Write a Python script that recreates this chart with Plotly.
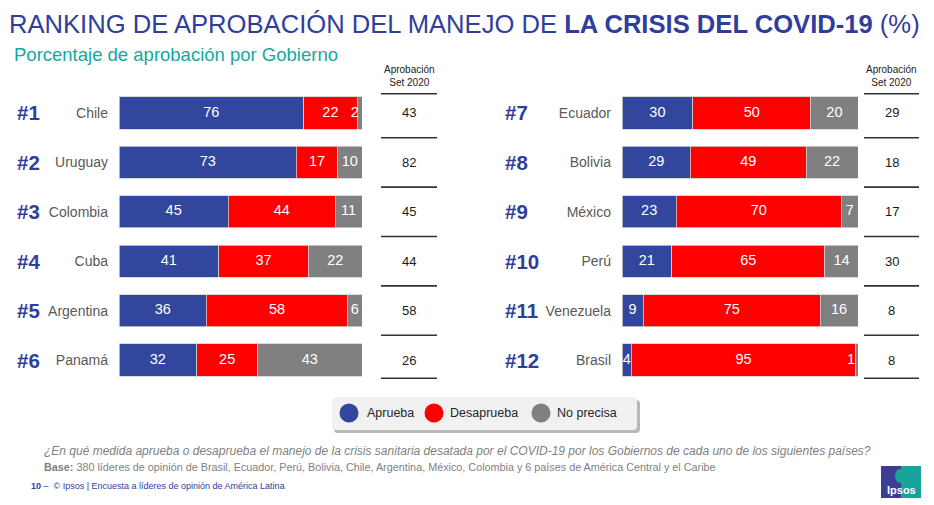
import plotly.graph_objects as go

# ---------------- data ----------------
ranks_left = ["#1", "#2", "#3", "#4", "#5", "#6"]
countries_left = ["Chile", "Uruguay", "Colombia", "Cuba", "Argentina", "Panamá"]
aprueba_left = [76, 73, 45, 41, 36, 32]
desaprueba_left = [22, 17, 44, 37, 58, 25]
noprecisa_left = [2, 10, 11, 22, 6, 43]
set2020_left = [43, 82, 45, 44, 58, 26]

ranks_right = ["#7", "#8", "#9", "#10", "#11", "#12"]
countries_right = ["Ecuador", "Bolivia", "México", "Perú", "Venezuela", "Brasil"]
aprueba_right = [30, 29, 23, 21, 9, 4]
desaprueba_right = [50, 49, 70, 65, 75, 95]
noprecisa_right = [20, 22, 7, 14, 16, 1]
set2020_right = [29, 18, 17, 30, 8, 8]

series_names = ["Aprueba", "Desaprueba", "No precisa"]
series_colors = ["#31469C", "#FF0000", "#808080"]

title_regular = "RANKING DE APROBACIÓN DEL MANEJO DE "
title_bold = "LA CRISIS DEL COVID-19"
title_tail = " (%)"
subtitle = "Porcentaje de aprobación por Gobierno"
table_header = "Aprobación<br>Set 2020"
question = ("¿En qué medida aprueba o desaprueba el manejo de la crisis sanitaria desatada por el "
            "COVID-19 por los Gobiernos de cada uno de los siguientes países?")
base_text = ("380 líderes de opinión de Brasil, Ecuador, Perú, Bolivia, Chile, Argentina, México, "
             "Colombia y 6 países de América Central y el Caribe")
footer_text = "© Ipsos | Encuesta a líderes de opinión de América Latina"

# ---------------- helpers ----------------
# the page places the figure 8px from the top-left corner (default body margin)
OFF = 8
W, H = 934 - OFF, 505 - OFF
FONT = "Arial, Liberation Sans, sans-serif"
BLUE_T = "#2F3E9B"


def px(x):
    return (x - OFF) / W


def py(y):
    return 1 - (y - OFF) / H


def rrect(x0, y0, x1, y1, r):
    X0, X1 = px(x0), px(x1)
    Y0, Y1 = py(y0), py(y1)
    rx, ry = r / W, r / H
    return (f"M {X0+rx},{Y0} L {X1-rx},{Y0} Q {X1},{Y0} {X1},{Y0-ry} "
            f"L {X1},{Y1+ry} Q {X1},{Y1} {X1-rx},{Y1} L {X0+rx},{Y1} "
            f"Q {X0},{Y1} {X0},{Y1+ry} L {X0},{Y0-ry} Q {X0},{Y0} {X0+rx},{Y0} Z")


fig = go.Figure()
shapes = []
annotations = []

panels = [
    dict(xa="x", ya="y", yname="yaxis", xname="xaxis", countries=countries_left, ranks=ranks_left,
         series=[aprueba_left, desaprueba_left, noprecisa_left], table=set2020_left,
         dom=[px(119), px(362)], rank_x=15, tab_x0=381, tab_x1=437),
    dict(xa="x2", ya="y2", yname="yaxis2", xname="xaxis2", countries=countries_right, ranks=ranks_right,
         series=[aprueba_right, desaprueba_right, noprecisa_right], table=set2020_right,
         dom=[px(622), px(858)], rank_x=503, tab_x0=864, tab_x1=919),
]

ydom = [py(384.7), py(88.3)]

for p in panels:
    # bars
    for name, color, vals in zip(series_names, series_colors, p["series"]):
        fig.add_trace(go.Bar(
            x=vals, y=p["countries"], orientation="h", name=name,
            marker=dict(color=color, line=dict(color="#cfcfcf", width=0.8)),
            width=0.65, xaxis=p["xa"], yaxis=p["ya"], showlegend=False,
            hoverinfo="skip",
        ))
    # value labels (centred in each segment, kept inside the bar)
    lx, ly, lt = [], [], []
    for i, c in enumerate(p["countries"]):
        cum = 0
        for vals in p["series"]:
            v = vals[i]
            mid = min(max(cum + v / 2, 1.6), 97)
            lx.append(mid)
            ly.append(c)
            lt.append(str(v))
            cum += v
    fig.add_trace(go.Scatter(
        x=lx, y=ly, text=lt, mode="text", textposition="middle center",
        textfont=dict(color="white", size=14.5, family=FONT),
        xaxis=p["xa"], yaxis=p["ya"], showlegend=False, hoverinfo="skip", cliponaxis=False,
    ))
    # rank labels
    for r, c in zip(p["ranks"], p["countries"]):
        annotations.append(dict(
            x=px(p["rank_x"]), xref="paper", y=c, yref=p["ya"], xanchor="left", yanchor="middle",
            text=f"<b>{r}</b>", showarrow=False,
            font=dict(size=20.5, color=BLUE_T, family=FONT),
        ))
    # table values
    tcx = (p["tab_x0"] + p["tab_x1"]) / 2
    for v, c in zip(p["table"], p["countries"]):
        annotations.append(dict(
            x=px(tcx), xref="paper", y=c, yref=p["ya"], xanchor="center", yanchor="middle",
            text=str(v), showarrow=False, font=dict(size=13, color="#1a1a1a", family=FONT),
        ))
    # table header
    annotations.append(dict(
        x=px(tcx), xref="paper", y=py(76), yref="paper", xanchor="center", yanchor="middle",
        text=table_header, showarrow=False, font=dict(size=10, color="#222222", family=FONT),
    ))
    # table lines
    n = len(p["countries"])
    bounds = [-0.39] + [i + 0.5 for i in range(n - 1)] + [n - 1 + 0.37]
    for b in bounds:
        shapes.append(dict(
            type="line", xref="paper", yref=p["ya"], x0=px(p["tab_x0"]), x1=px(p["tab_x1"]),
            y0=b, y1=b, line=dict(color="#333333", width=1.6),
        ))

layout_axes = {}
for p in panels:
    layout_axes[p["xname"]] = dict(domain=p["dom"], range=[0, 100], visible=False,
                                   anchor=p["ya"], fixedrange=True)
    layout_axes[p["yname"]] = dict(
        domain=ydom, anchor=p["xa"], type="category", categoryorder="array",
        categoryarray=p["countries"], range=[len(p["countries"]) - 0.5, -0.5],
        showgrid=False, showline=False, zeroline=False, ticks="",
        tickfont=dict(size=14, color="#595959", family=FONT), ticklabelstandoff=10,
    )

# title / subtitle
annotations.append(dict(
    x=px(7), xref="paper", y=py(24), yref="paper", xanchor="left", yanchor="middle",
    text=f"{title_regular}<b>{title_bold}</b>{title_tail}", showarrow=False,
    font=dict(size=25.6, color=BLUE_T, family=FONT),
))
annotations.append(dict(
    x=px(12), xref="paper", y=py(55), yref="paper", xanchor="left", yanchor="middle",
    text=subtitle, showarrow=False, font=dict(size=18.5, color="#14A89E", family=FONT),
))

# legend (drawn manually: rounded box with shadow, circles, labels)
shapes.append(dict(type="path", xref="paper", yref="paper", path=rrect(334, 400, 640, 433, 4),
                   fillcolor="rgba(0,0,0,0.28)", line=dict(width=0), layer="below"))
shapes.append(dict(type="path", xref="paper", yref="paper", path=rrect(332, 397, 637, 430, 4),
                   fillcolor="#F1F1F1", line=dict(width=0), layer="below"))
leg_cx = [349, 434, 541]
leg_tx = [365, 448, 555]
for name, color, cx, tx in zip(series_names, series_colors, leg_cx, leg_tx):
    shapes.append(dict(type="circle", xref="paper", yref="paper",
                       x0=px(cx - 9.5), x1=px(cx + 9.5), y0=py(413 + 9.5), y1=py(413 - 9.5),
                       fillcolor=color, line=dict(width=0)))
    annotations.append(dict(
        x=px(tx), xref="paper", y=py(413), yref="paper", xanchor="left", yanchor="middle",
        text=name, showarrow=False, font=dict(size=12.5, color="#262626", family=FONT),
    ))

# footer texts
annotations.append(dict(
    x=px(42), xref="paper", y=py(451), yref="paper", xanchor="left", yanchor="middle",
    text=f"<i>{question}</i>", showarrow=False, font=dict(size=12, color="#7F7F7F", family=FONT),
))
annotations.append(dict(
    x=px(42), xref="paper", y=py(467), yref="paper", xanchor="left", yanchor="middle",
    text=f"<b>Base:</b> {base_text}", showarrow=False, font=dict(size=10.8, color="#7F7F7F", family=FONT),
))
annotations.append(dict(
    x=px(29), xref="paper", y=py(486), yref="paper", xanchor="left", yanchor="middle",
    text=f"<b>10</b> –  {footer_text}", showarrow=False, font=dict(size=9, color=BLUE_T, family=FONT),
))

# Ipsos logo
shapes.append(dict(type="rect", xref="paper", yref="paper", x0=px(881), x1=px(901), y0=py(498), y1=py(466),
                   fillcolor="#3B3D96", line=dict(width=0)))
shapes.append(dict(type="rect", xref="paper", yref="paper", x0=px(901), x1=px(921), y0=py(498), y1=py(466),
                   fillcolor="#16A39A", line=dict(width=0)))
shapes.append(dict(type="circle", xref="paper", yref="paper", x0=px(895), x1=px(905), y0=py(483), y1=py(469),
                   fillcolor="#16A39A", line=dict(width=0)))
annotations.append(dict(
    x=px(901), xref="paper", y=py(490), yref="paper", xanchor="center", yanchor="middle",
    text="<b>Ipsos</b>", showarrow=False, font=dict(size=11, color="white", family=FONT),
))

fig.update_layout(
    width=W, height=H, margin=dict(l=0, r=0, t=0, b=0),
    paper_bgcolor="white", plot_bgcolor="white",
    barmode="stack", bargap=0.35, showlegend=False,
    shapes=shapes, annotations=annotations,
    font=dict(family=FONT),
    **layout_axes,
)

fig.write_html("out.html")
